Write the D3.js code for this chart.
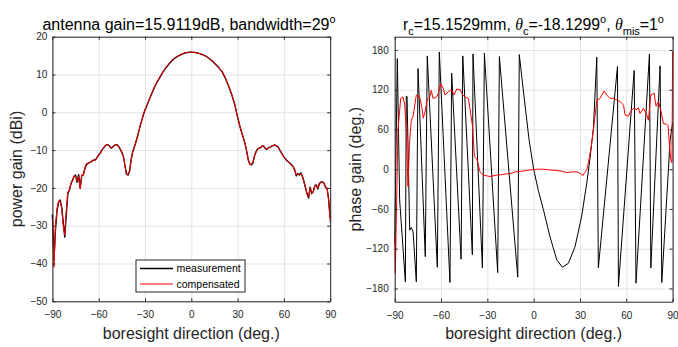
<!DOCTYPE html>
<html><head><meta charset="utf-8">
<script src="https://cdn.jsdelivr.net/npm/d3@7"></script>
<style>
html,body{margin:0;padding:0;background:#fff;}
svg{display:block;font-family:"Liberation Sans",Arial,Helvetica,sans-serif;}
</style></head>
<body>
<svg id="chart" width="678" height="347"></svg>
<script>
// ---------- data ----------
const xTicks = [-90, -60, -30, 0, 30, 60, 90];
const gainTicks = [-50, -40, -30, -20, -10, 0, 10, 20];
const phaseTicks = [-180, -120, -60, 0, 60, 120, 180];
const legendLabels = ["measurement", "compensated"];

const gainAngles = [-90,-89,-88,-87,-86,-85,-84,-83,-82,-81,-80,-79,-78,-77,-76,-75,-74,-73,-72,-71,-70,-69,-68,-67,-66,-65,-64,-62,-60,-59,-58,-56,-55,-54,-53,-52,-51,-50,-49,-48,-47,-46,-45,-44,-43,-42,-41,-40,-39,-38,-37,-36,-35,-34,-33,-32,-31,-30,-29,-28,-26,-24,-22,-20,-18,-16,-14,-12,-10,-8,-6,-4,-2,0,2,4,6,8,10,12,14,16,18,20,22,24,26,28,30,32,34,35,36,37,38,39,40,41,42,43,44,45,46,47,48,49,50,52,54,56,57,58,60,62,64,66,67,68,69,70,71,72,73,74,75,76,77,78,79,80,81,82,83,84,85,86,87,88,89,90];
const gainMeasured = [-27,-39,-31,-26,-23.8,-23.2,-25,-29,-33,-27,-21.5,-20.5,-19,-18,-17,-16.6,-18.5,-16.5,-20,-16.8,-16.5,-15,-13.8,-13.5,-13.3,-13.1,-12.8,-12.5,-11.3,-10.8,-10,-9,-8.6,-8.6,-8.9,-9.5,-9.2,-8.8,-8.6,-8.6,-9.1,-9.8,-10.6,-11.7,-14,-16.3,-16.6,-15.5,-12.5,-10.5,-9.3,-8.0,-6.6,-5.0,-3.4,-2.0,-0.6,0.6,1.5,2.6,4.6,6.5,8.1,9.5,10.9,12.0,13.0,13.9,14.5,15.0,15.4,15.7,15.85,15.9,15.85,15.7,15.45,15.1,14.7,14.1,13.4,12.6,11.7,10.7,9.1,7.1,4.9,2.3,-1.3,-4.5,-7.2,-8.6,-10.6,-12.7,-13.7,-13.9,-13.3,-11.5,-10.4,-9.7,-9.5,-9.3,-8.9,-9.0,-9.6,-9.8,-9.4,-9.0,-8.6,-9.1,-9.7,-10.5,-11.8,-12.8,-13.5,-14.4,-15.2,-16.8,-16.2,-16.6,-16.0,-17.0,-18.3,-20,-21.5,-22.7,-19.8,-21.5,-21.0,-19.5,-19.2,-20.3,-18.8,-18.5,-18.4,-18.8,-19.8,-20.2,-23,-28];
const gainCompensated = [-28,-41,-30,-25.5,-23.5,-23.4,-25.5,-30,-32.5,-26,-21,-20.8,-18.7,-18.3,-16.8,-16.9,-18.2,-17,-20.3,-16.5,-16.8,-14.8,-13.6,-13.7,-13.2,-13.3,-12.6,-12.7,-11.1,-11.0,-10.2,-8.8,-8.7,-8.5,-9.0,-9.4,-9.3,-8.7,-8.7,-8.5,-9.2,-9.7,-10.7,-11.5,-14.2,-16.5,-16.4,-15.7,-12.8,-10.4,-9.2,-8.1,-6.5,-5.1,-3.3,-2.1,-0.5,0.7,1.6,2.7,4.7,6.6,8.2,9.6,11.0,12.1,13.1,14.0,14.6,15.05,15.45,15.75,15.9,15.91,15.88,15.72,15.48,15.15,14.75,14.15,13.45,12.65,11.75,10.75,9.2,7.2,5.0,2.4,-1.2,-4.4,-7.1,-8.5,-10.5,-12.9,-13.9,-13.7,-13.1,-11.3,-10.6,-9.6,-9.6,-9.1,-9.0,-8.8,-9.7,-9.6,-9.5,-8.9,-8.7,-9.0,-9.8,-10.4,-11.9,-12.7,-13.6,-14.3,-15.4,-16.6,-16.4,-16.4,-16.2,-16.8,-18.5,-19.8,-21.7,-22.5,-20.1,-21.3,-21.2,-19.3,-19.4,-20.1,-19.0,-18.3,-18.6,-18.6,-20.0,-20.0,-23.5,-29];

const phaseMeasAngles = [-90,-88.3,-86.8,-83.1,-82.5,-82.0,-80.3,-79.3,-78.1,-76,-74.9,-70.2,-68.9,-62.4,-61.1,-54.2,-53.1,-47,-45.9,-39.7,-39.3,-33.2,-31.9,-23.3,-22.2,-10.3,-9.3,-6,-3,0,3,6.3,10.6,15,18.6,22.5,26.8,31.1,34.4,36.6,38.7,40.9,41.9,54.3,54.9,65.1,66.3,75,75.9,81.9,83,88.4,90];
const phaseMeasured = [-112,167,-46,-170,110,110,-92,-88,-94,-170,152,-132,171,-148,177,-171,145,-136,171,-129,174,-149,175,-156,170,-163,173,105,45,0,-32,-61,-102,-137,-148,-142,-117,-71,-21,18,62,169,-149,155,-177,149,-172,174,-149,156,-171,44,70];

const phaseCompAngles = [-90,-89.6,-87.9,-86.1,-84.6,-83.5,-82.5,-81.4,-80.3,-79.2,-78.1,-76,-73.8,-72.3,-71.5,-70.2,-68.9,-67.3,-66.3,-65.2,-63.5,-62.4,-61.1,-60.2,-58.5,-57.4,-55.3,-53.1,-51.6,-49.8,-47.7,-45.9,-44.4,-42.3,-40.8,-39.5,-38.4,-36.9,-34.7,-32.6,-28.3,-24,-20,-17.4,-14,-12,-8,-2.3,3,6.3,10,15,18,21.4,25,27.9,30,31.8,33,34.4,35.4,37,38.7,40.9,43,45.6,47.3,49.5,51.6,53.4,56,58.2,59.2,61.4,62.5,64.6,66.8,67.8,68.9,71.1,73.3,74.3,75.9,78,79.3,80.8,82.4,84,86.2,87,88.4,89.1,89.6,90];
const phaseCompensated = [-100,-157,59,107,109,97,60,-26,44,74,80,112,109,92,77,88,105,109,119,107,108,110,121,129,122,112,117,120,112,121,120,112,109,107,84,64,19,16,-4,-9,-11,-9,-8,-7,-6,-4,-3,-1,0,0,-1,-2,-3,-5,-4,-4,-6,-10,-5,-1,9,30,59,104,107,118,112,107,107,105,102,97,82,80,86,92,90,93,84,92,82,74,112,115,95,102,89,69,68,66,24,11,10,178];

// ---------- layout ----------
const svg = d3.select("#chart");
const font = '"Liberation Sans",Arial,Helvetica,sans-serif';
const axisColor = "#262626";
const gridColor = "#e3e3e3";

function panel(opt) {
  const g = svg.append("g");
  const x = d3.scaleLinear().domain([-90, 90]).range([opt.x0, opt.x1]);
  const y = d3.scaleLinear().domain(opt.yDomain).range([opt.y1, opt.y0]);
  const w = opt.x1 - opt.x0, h = opt.y1 - opt.y0;
  // grid
  g.append("g").attr("transform", `translate(0,${opt.y1})`)
    .call(d3.axisBottom(x).tickValues(xTicks).tickSize(-h).tickFormat(""))
    .call(s => { s.select(".domain").remove(); s.selectAll("line").attr("stroke", gridColor); });
  g.append("g").attr("transform", `translate(${opt.x0},0)`)
    .call(d3.axisLeft(y).tickValues(opt.yTicks).tickSize(-w).tickFormat(""))
    .call(s => { s.select(".domain").remove(); s.selectAll("line").attr("stroke", gridColor); });
  // lines
  const plotG = g.append("g");
  opt.series.forEach(sr => {
    const line = d3.line().x((d, i) => x(sr.xs[i])).y(d => y(d));
    plotG.append("path").datum(sr.ys).attr("d", line)
      .attr("fill", "none").attr("stroke", sr.color).attr("stroke-width", sr.width)
      .attr("stroke-linejoin", "round");
  });
  // axes with inward ticks
  const tl = 3;
  const bottom = g.append("g").attr("transform", `translate(0,${opt.y1})`)
    .call(d3.axisBottom(x).tickValues(xTicks).tickSizeInner(-tl).tickSizeOuter(0).tickPadding(10));
  const top = g.append("g").attr("transform", `translate(0,${opt.y0})`)
    .call(d3.axisTop(x).tickValues(xTicks).tickSizeInner(-tl).tickSizeOuter(0).tickFormat(""));
  const left = g.append("g").attr("transform", `translate(${opt.x0},0)`)
    .call(d3.axisLeft(y).tickValues(opt.yTicks).tickSizeInner(-tl).tickSizeOuter(0).tickPadding(opt.yPad));
  const right = g.append("g").attr("transform", `translate(${opt.x1},0)`)
    .call(d3.axisRight(y).tickValues(opt.yTicks).tickSizeInner(-tl).tickSizeOuter(0).tickFormat(""));
  [bottom, top, left, right].forEach(a => {
    a.select(".domain").attr("stroke", axisColor).attr("stroke-width", 1);
    a.selectAll("line").attr("stroke", axisColor);
    a.selectAll("text").attr("fill", axisColor).attr("font-size", 10).attr("font-family", font);
  });
  // y label
  g.append("text").attr("transform", `translate(${opt.ylabelX},${(opt.y0 + opt.y1) / 2}) rotate(-90)`)
    .attr("text-anchor", "middle").attr("font-size", 16).attr("fill", axisColor)
    .attr("font-family", font).text(opt.ylabel);
  // x label
  g.append("text").attr("x", (opt.x0 + opt.x1) / 2).attr("y", 339)
    .attr("text-anchor", "middle").attr("font-size", 16).attr("fill", axisColor)
    .attr("font-family", font).text("boresight direction (deg.)");
  return { g, x, y };
}

// left panel
const L = panel({
  x0: 52.4, x1: 330.2, y0: 36.7, y1: 301.3,
  yDomain: [-50, 20], yTicks: gainTicks, ylabel: "power gain (dBi)", ylabelX: 22, yPad: 5,
  series: [
    { xs: gainAngles, ys: gainMeasured, color: "#000", width: 1.4 },
    { xs: gainAngles, ys: gainCompensated, color: "#ff0000", width: 1 }
  ]
});
// right panel
const R = panel({
  x0: 394.7, x1: 672.6, y0: 36.7, y1: 301.7,
  yDomain: [-200, 200], yTicks: phaseTicks, ylabel: "phase gain (deg.)", ylabelX: 361, yPad: 6,
  series: [
    { xs: phaseMeasAngles, ys: phaseMeasured, color: "#000", width: 1 },
    { xs: phaseCompAngles, ys: phaseCompensated, color: "#ff0000", width: 1 }
  ]
});

// titles
const t1 = svg.append("text").attr("x", 189).attr("y", 29.5).attr("text-anchor", "middle")
  .attr("font-size", 16).attr("fill", "#000").attr("font-family", font);
t1.append("tspan").text("antenna gain=15.9119dB, bandwidth=29");
t1.append("tspan").attr("dy", -7).attr("font-size", 11).text("o");

const t2 = svg.append("text").attr("x", 533.5).attr("y", 29.5).attr("text-anchor", "middle")
  .attr("font-size", 15.8).attr("fill", "#000").attr("font-family", font);
const parts = [
  ["r", "n"], ["c", "sub"], ["=15.1529mm, ", "n"], ["θ", "it"], ["c", "sub"], ["=-18.1299", "n"], ["o", "sup"],
  [", ", "n"], ["θ", "it"], ["mis", "sub"], ["=1", "n"], ["o", "sup"]
];
let cur = 0;
parts.forEach(([txt, kind]) => {
  let target = kind === "sub" ? 5 : kind === "sup" ? -7 : 0;
  const ts = t2.append("tspan").attr("dy", target - cur).text(txt);
  cur = target;
  if (kind === "sub" || kind === "sup") ts.attr("font-size", 11);
  if (kind === "it") ts.attr("font-style", "italic").attr("font-family", '"Liberation Serif","Times New Roman",serif');
});

// legend
const lg = svg.append("g");
lg.append("rect").attr("x", 136).attr("y", 260).attr("width", 109).attr("height", 32)
  .attr("fill", "#fff").attr("stroke", axisColor).attr("stroke-width", 1);
const legendColors = ["#000", "#ff0000"];
const legendWidths = [1.4, 1];
legendLabels.forEach((lab, i) => {
  const yy = 268.5 + i * 15.5;
  lg.append("line").attr("x1", 140).attr("x2", 173).attr("y1", yy).attr("y2", yy)
    .attr("stroke", legendColors[i]).attr("stroke-width", legendWidths[i]);
  lg.append("text").attr("x", 176.5).attr("y", yy).attr("dy", "0.35em")
    .attr("font-size", 10.5).attr("fill", "#000").attr("font-family", font).text(lab);
});
</script>
</body></html>
